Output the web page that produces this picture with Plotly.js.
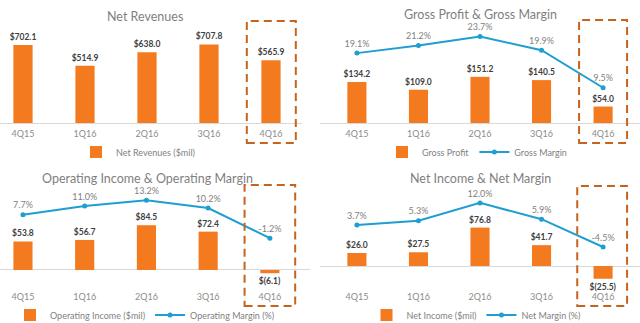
<!DOCTYPE html>
<html><head><meta charset="utf-8">
<script src="https://cdn.plot.ly/plotly-3.0.1.min.js"></script>
<style>html,body{margin:0;padding:0;background:#fff}#c{width:640px;height:323px}</style>
</head><body><div id="c"></div>
<script>
const quarters = ["4Q15","1Q16","2Q16","3Q16","4Q16"];
const netRevenues = [702.1, 514.9, 638.0, 707.8, 565.9];
const grossProfit = [134.2, 109.0, 151.2, 140.5, 54.0];
const grossMargin = [19.1, 21.2, 23.7, 19.9, 9.5];
const opIncome = [53.8, 56.7, 84.5, 72.4, -6.1];
const opMargin = [7.7, 11.0, 13.2, 10.2, -1.2];
const netIncome = [26.0, 27.5, 76.8, 41.7, -25.5];
const netMargin = [3.7, 5.3, 12.0, 5.9, -4.5];
const titles = ["Net Revenues","Gross Profit & Gross Margin","Operating Income & Operating Margin","Net Income & Net Margin"];
const legendNames = ["Net Revenues ($mil)","Gross Profit","Gross Margin","Operating Income ($mil)","Operating Margin (%)","Net Income ($mil)","Net Margin (%)"];

const W=640,H=323;
const FONT="Lato, 'Open Sans', sans-serif";
const ORANGE="#F47A20", BLUE="#1F9ED1", BOX="#C8621F";
const fmtD = v => v<0 ? "$("+Math.abs(v).toFixed(1)+")" : "$"+v.toFixed(1);
const fmtP = v => v.toFixed(1)+"%";
const px = p => p/W, py = p => 1-p/H;

function bar(y, xa, ya, name, leg){
  return {type:"bar", x:quarters, y:y, xaxis:xa, yaxis:ya, name:name, legend:leg,
    marker:{color:ORANGE}, width:0.31, text:y.map(fmtD), textposition:"outside", constraintext:"none",
    cliponaxis:false, textfont:{family:FONT,size:8.5,color:"#404040",weight:"bold"}, hoverinfo:"skip"};
}
function line(y, xa, ya, name, leg){
  return {type:"scatter", mode:"lines+markers+text", x:quarters, y:y, xaxis:xa, yaxis:ya, name:name, legend:leg,
    line:{color:BLUE,width:2}, marker:{color:BLUE,size:5}, text:y.map(fmtP), textposition:"top center",
    cliponaxis:false, textfont:{family:FONT,size:9,color:"#7f7f7f"}, hoverinfo:"skip"};
}
const data = [
  bar(netRevenues,"x","y",legendNames[0],"legend"),
  bar(grossProfit,"x2","y2",legendNames[1],"legend2"),
  line(grossMargin,"x2","y3",legendNames[2],"legend2"),
  bar(opIncome,"x3","y4",legendNames[3],"legend3"),
  line(opMargin,"x3","y5",legendNames[4],"legend3"),
  bar(netIncome,"x4","y6",legendNames[5],"legend4"),
  line(netMargin,"x4","y7",legendNames[6],"legend4")
];
function xa(d0,d1,range,anchor,standoff){
  return {domain:[px(d0),px(d1)], range:range, type:"category", anchor:anchor, showgrid:false, zeroline:false,
    showline:false, ticks:"", ticklabelstandoff:standoff||0, tickfont:{family:FONT,size:9,color:"#8c8c8c"}, fixedrange:true};
}
function yb(t,b,range,anchor){
  return {domain:[py(b),py(t)], range:range, anchor:anchor, showgrid:false, showticklabels:false, ticks:"",
    zeroline:true, zerolinecolor:"#d9d9d9", zerolinewidth:1, showline:false, fixedrange:true};
}
function yl(range,anchor,over){
  return {range:range, anchor:anchor, overlaying:over, showgrid:false, showticklabels:false, ticks:"",
    zeroline:false, showline:false, fixedrange:true};
}
function box(xr, x0, x1, t, b){
  return {type:"rect", xref:xr, yref:"paper", x0:x0, x1:x1, y0:py(b), y1:py(t),
    line:{color:BOX,width:2,dash:"8px,5px"}, fillcolor:"rgba(0,0,0,0)"};
}
function leg(cx, cy){
  return {orientation:"h", x:px(cx), y:py(cy), xanchor:"center", yanchor:"middle",
    font:{family:FONT,size:9,color:"#7f7f7f"}, bgcolor:"rgba(0,0,0,0)", itemwidth:30};
}
function ttl(text, cx, cy){
  return {text:text, xref:"paper", yref:"paper", x:px(cx), y:py(cy), xanchor:"center", yanchor:"middle",
    showarrow:false, font:{family:FONT,size:12.5,color:"#7f7f7f"}};
}
const layout = {
  width:W, height:H, margin:{l:0,r:0,t:0,b:0,autoexpand:false}, paper_bgcolor:"#fff", plot_bgcolor:"rgba(0,0,0,0)",
  showlegend:true,
  xaxis: xa(0,302,[-0.371,4.5],"y"),
  xaxis2: xa(320,640,[-0.60,4.6],"y2"),
  xaxis3: xa(0,310,[-0.372,4.65],"y4",2),
  xaxis4: xa(320,640,[-0.60,4.6],"y6",2),
  yaxis: yb(25,127,[-36,883],"x"),
  yaxis2: yb(25,127,[-13.1,321],"x2"),
  yaxis3: yl([-1.39,26.9],"x2","y2"),
  yaxis4: yb(185,288,[-34,160.4],"x3"),
  yaxis5: yl([-20.08,18.94],"x3","y4"),
  yaxis6: yb(185,288,[-44,162],"x4"),
  yaxis7: yl([-19.85,18.7],"x4","y6"),
  legend: leg(138,152),
  legend2: leg(477,152),
  legend3: leg(145,315),
  legend4: leg(476,315),
  annotations:[ttl(titles[0],145,16), ttl(titles[1],480,15), ttl(titles[2],147,178), ttl(titles[3],480,178)],
  shapes:[
    box("x",3.61,4.40,21,143),
    box("x2",3.61,4.39,20,143),
    box("x3",3.59,4.41,185,306),
    box("x4",3.58,4.39,186,306)
  ]
};
Plotly.newPlot("c", data, layout, {displayModeBar:false, staticPlot:true});
</script></body></html>
